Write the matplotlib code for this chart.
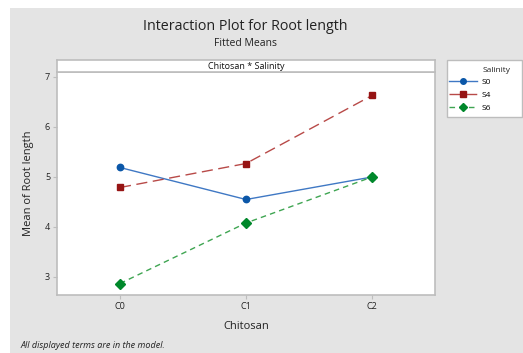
import matplotlib.pyplot as plt
from matplotlib.patches import Rectangle
from matplotlib.lines import Line2D

# ==========================
# DATA
# ==========================
chitosan = ["C0", "C1", "C2"]
salinity = ["S0", "S4", "S6"]
s0_means = [5.19, 4.55, 5.00]
s4_means = [4.79, 5.27, 6.63]
s6_means = [2.87, 4.08, 5.00]

series = [s0_means, s4_means, s6_means]
line_colors = ["#3f78c4", "#b84a48", "#3fa552"]
mark_colors = ["#0b57a8", "#961414", "#00882b"]
markers = ["o", "s", "D"]
styles = ["-", (0, (8, 4)), (0, (4, 3))]

W, H = 523, 353
plt.rcParams["font.family"] = ["Open Sans", "DejaVu Sans"]

fig = plt.figure(figsize=(W / 100, H / 100), dpi=100)
fig.patch.set_facecolor("white")


def box(x0, y0, x1, y1):
    # pixel box (top-left origin) -> figure fraction rect
    return [x0 / W, 1 - y1 / H, (x1 - x0) / W, (y1 - y0) / H]


# gray panel
fig.patches.append(Rectangle((10 / W, 0), 1, 1 - 8 / H, transform=fig.transFigure,
                             facecolor="#e4e4e4", edgecolor="none", zorder=-10))

# ==========================
# MAIN AXES
# ==========================
ax = fig.add_axes(box(57, 72, 435, 295))
ax.set_facecolor("white")
x = list(range(len(chitosan)))
for vals, lc, mc, m, ls in zip(series, line_colors, mark_colors, markers, styles):
    ax.plot(x, vals, color=lc, linestyle=ls, linewidth=1.0, zorder=2)
    ax.plot(x, vals, linestyle="none", marker=m, color=mc,
            markersize=4.6, zorder=3)

ax.set_xlim(-0.5, 2.5)
ax.set_ylim(2.64, 7.1)
ax.set_xticks(x)
ax.set_xticklabels(chitosan)
ax.set_yticks([3, 4, 5, 6, 7])
ax.tick_params(axis="both", labelsize=6.5, colors="#bdbdbd", labelcolor="#222222",
               length=3, width=0.8, pad=2)
for sp in ax.spines.values():
    sp.set_color("#bdbdbd")
    sp.set_linewidth(1.2)
ax.set_xlabel("Chitosan", fontsize=8, color="#222222", labelpad=7)
ax.set_ylabel("Mean of Root length", fontsize=8, color="#222222", labelpad=8)

# header strip
strip = fig.add_axes(box(57, 60, 435, 72))
strip.set_facecolor("white")
strip.set_xticks([])
strip.set_yticks([])
for sp in strip.spines.values():
    sp.set_color("#bdbdbd")
    sp.set_linewidth(1.2)
strip.text(0.5, 0.45, "Chitosan * Salinity", ha="center", va="center",
           fontsize=6.5, color="#111111", transform=strip.transAxes)

# ==========================
# TITLES / NOTES
# ==========================
fig.text(245 / W, 1 - 27 / H, "Interaction Plot for Root length", ha="center",
         va="center", fontsize=10.3, color="#222222")
fig.text(245 / W, 1 - 43 / H, "Fitted Means", ha="center", va="center",
         fontsize=7.5, color="#222222")
fig.text(20 / W, 1 - 346 / H, "All displayed terms are in the model.", ha="left",
         va="center", fontsize=6.5, style="italic", color="#222222")

# ==========================
# LEGEND
# ==========================
fig.patches.append(Rectangle((447 / W, 1 - 117 / H), 75 / W, 57 / H,
                             transform=fig.transFigure, facecolor="white",
                             edgecolor="#bdbdbd", linewidth=1.0, zorder=1))
fig.text(483 / W, 1 - 70 / H, "Salinity", ha="left", va="center",
         fontsize=6, color="#222222")
handles = [Line2D([0], [0], color=lc, linestyle=ls, linewidth=1.0, marker=m,
                  markerfacecolor=mc, markeredgecolor=mc, markersize=4)
           for lc, mc, m, ls in zip(line_colors, mark_colors, markers, styles)]
leg = fig.legend(handles, salinity, loc="upper left",
                 bbox_to_anchor=(449 / W, 1 - 78 / H), frameon=False, fontsize=6,
                 handlelength=3.4, handletextpad=0.5, labelspacing=0.65,
                 borderaxespad=0, borderpad=0)

fig.savefig("out.png", dpi=100)
